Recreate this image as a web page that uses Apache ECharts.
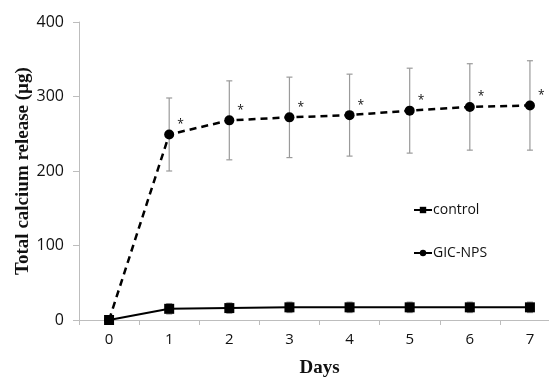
<!DOCTYPE html>
<html>
<head>
<meta charset="utf-8">
<script src="https://cdn.jsdelivr.net/npm/echarts@6/dist/echarts.min.js"></script>
<style>
  html, body { margin: 0; padding: 0; background: #fff; }
  #chart { width: 549px; height: 378px; }
</style>
</head>
<body>
<div id="chart"></div>
<script>
// 天数与数据
const days = ['0', '1', '2', '3', '4', '5', '6', '7'];
const controlVals = [0, 15, 16, 17, 17, 17, 17, 17];
const controlErr = [0, 7, 7, 7, 7, 7, 7, 7];
const gicVals = [0, 249, 268, 272, 275, 281, 286, 288];
const gicErr = [0, 49, 53, 54, 55, 57, 58, 60];
const yTicks = [0, 100, 200, 300, 400];

const errData = (vals, errs) => vals.map((v, i) => [i, v - errs[i], v + errs[i]]);

// 误差线
const errorBars = (params, api) => {
  const x = api.value(0);
  const lo = api.coord([x, api.value(1)]);
  const hi = api.coord([x, api.value(2)]);
  if (hi[1] === lo[1]) return null;
  const w = 3;
  const style = { stroke: '#9a9a9a', lineWidth: 1.2 };
  return {
    type: 'group',
    children: [
      { type: 'line', shape: { x1: lo[0], y1: lo[1], x2: hi[0], y2: hi[1] }, style },
      { type: 'line', shape: { x1: lo[0] - w, y1: lo[1], x2: lo[0] + w, y2: lo[1] }, style },
      { type: 'line', shape: { x1: hi[0] - w, y1: hi[1], x2: hi[0] + w, y2: hi[1] }, style },
    ],
  };
};

const myChart = echarts.init(document.getElementById('chart'));
const option = {
  animation: false,
  grid: { left: 79, top: 22, width: 481, height: 298, containLabel: false, outerBoundsMode: 'none' },
  legend: {
    orient: 'vertical',
    left: 408,
    top: 198,
    itemGap: 29,
    itemWidth: 18,
    itemHeight: 8,
    data: ['control', 'GIC-NPS'],
    textStyle: { fontFamily: 'Open Sans', fontSize: 14, color: '#111', padding: [0, 0, 0, -4] },
  },
  xAxis: {
    type: 'category',
    data: days,
    boundaryGap: true,
    axisLine: { lineStyle: { color: '#bdbdbd', width: 1 } },
    axisTick: { show: true, length: 5, lineStyle: { color: '#bdbdbd' } },
    axisLabel: { fontFamily: 'Open Sans', fontSize: 15, color: '#111', margin: 12 },
    name: 'Days',
    nameLocation: 'middle',
    nameGap: 39,
    nameMoveOverlap: false,
    nameTextStyle: { fontFamily: 'Liberation Serif', fontSize: 19, fontWeight: 'bold', color: '#111' },
  },
  yAxis: {
    type: 'value',
    min: 0,
    max: 400,
    interval: 100,
    axisLine: { show: true, lineStyle: { color: '#bdbdbd', width: 1 } },
    axisTick: { show: true, length: 6, lineStyle: { color: '#bdbdbd' } },
    splitLine: { show: false },
    axisLabel: {
      fontFamily: 'Open Sans', fontSize: 16, color: '#111', margin: 15,
      formatter: (v) => (yTicks.includes(v) ? String(v) : ''),
    },
    name: 'Total calcium release (µg)',
    nameLocation: 'middle',
    nameGap: 46,
    nameMoveOverlap: false,
    nameTextStyle: { fontFamily: 'Liberation Serif', fontSize: 19, fontWeight: 'bold', color: '#111' },
  },
  series: [
    {
      name: 'control-err',
      type: 'custom',
      renderItem: errorBars,
      data: errData(controlVals, controlErr),
      z: 1,
    },
    {
      name: 'GIC-NPS-err',
      type: 'custom',
      renderItem: errorBars,
      data: errData(gicVals, gicErr),
      z: 1,
    },
    {
      name: 'control',
      type: 'line',
      data: controlVals,
      symbol: 'rect',
      symbolSize: 10,
      lineStyle: { color: '#000', width: 2 },
      itemStyle: { color: '#000' },
      z: 3,
    },
    {
      name: 'GIC-NPS',
      type: 'line',
      data: gicVals,
      symbol: 'circle',
      symbolSize: 10,
      lineStyle: { color: '#000', width: 2.5, type: [7, 5] },
      itemStyle: { color: '#000' },
      label: {
        show: true,
        position: 'right',
        offset: [-2, -10],
        fontFamily: 'Open Sans',
        fontSize: 12,
        color: '#111',
        formatter: (p) => (p.dataIndex === 0 ? '' : '*'),
      },
      z: 3,
    },
  ],
};
myChart.setOption(option);
window.addEventListener('resize', () => myChart.resize());
</script>
</body>
</html>
